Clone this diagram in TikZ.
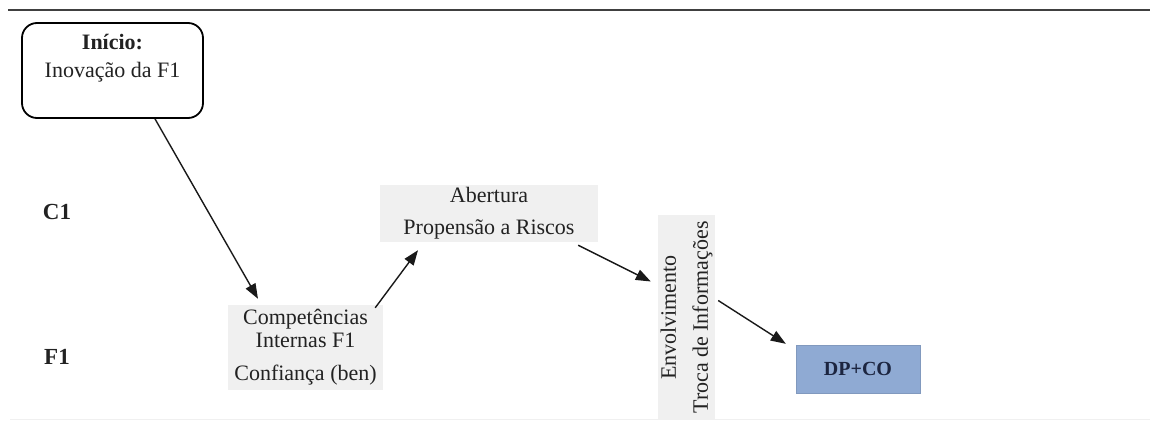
\documentclass[tikz,border=0pt]{standalone}
\usepackage{fontspec}
\setmainfont{Liberation Serif}
\usetikzlibrary{arrows.meta}
\definecolor{boxgray}{HTML}{F0F0F0}
\definecolor{dpblue}{HTML}{8FAAD3}
\definecolor{ink}{HTML}{222222}
\definecolor{navy}{HTML}{1C2540}
\begin{document}
\begin{tikzpicture}[x=1pt,y=-1pt,
  txt/.style={font=\fontsize{22}{23}\selectfont, text=ink, inner sep=0pt},
  graybox/.style={fill=boxgray, inner sep=0pt, align=center,
    font=\fontsize{22}{23}\selectfont, text=ink},
  lanelabel/.style={font=\fontsize{23}{24}\selectfont\bfseries, text=ink, inner sep=0pt},
  arr/.style={draw=black!90, line width=1.4pt, -{Triangle[length=15pt,width=11pt]}}]
\useasboundingbox (0,0) rectangle (1150,423);

% frame lines
\draw[line width=2.2pt, draw=black!75] (8,10) -- (1150,10);
\draw[line width=1pt, draw=black!6] (10,419) -- (1150,419);

% start box
\node[draw=black, line width=1.8pt, rounded corners=15pt,
      minimum width=181pt, minimum height=95pt, inner sep=0pt] (inicio) at (112.5,70.5) {};
\node[txt, align=center] (iniciotxt) at (112.5,58)
  {\textbf{Início:}\\[5pt]Inovação da F1};

% lane labels
\node[lanelabel] (c1) at (57,212) {C1};
\node[lanelabel] (f1) at (57,357) {F1};

% process boxes
\node[graybox, minimum width=155pt, minimum height=85pt] (comp) at (305.5,347.5)
  {Competências\\Internas F1\\[10pt]Confiança (ben)};
\node[graybox, minimum width=218pt, minimum height=57pt] (abert) at (489,213.5)
  {Abertura\\[9pt]Propensão a Riscos};
\node[graybox, minimum width=205pt, minimum height=57pt, rotate=90] (env) at (686.5,317.5)
  {Envolvimento\\[9pt]Troca de Informações};
\node[fill=dpblue, draw=dpblue!90!black, line width=0.4pt, minimum width=124pt, minimum height=48pt,
      inner sep=0pt, font=\fontsize{20}{22}\selectfont\bfseries, text=navy] (dp) at (858,369) {DP+CO};

% connectors
\draw[arr] ([xshift=42.5pt]inicio.south) -- ([xshift=-47.5pt,yshift=6pt]comp.north);
\draw[arr] ([xshift=-8pt,yshift=-3pt]comp.north east) -- ([xshift=-71pt,yshift=-8pt]abert.south);
\draw[arr] ([xshift=-20pt,yshift=-3pt]abert.south east) -- ([xshift=-7pt,yshift=36pt]env.north);
\draw[arr] ([xshift=3pt,yshift=17pt]env.south) -- ([xshift=-10pt,yshift=1pt]dp.north west);
\end{tikzpicture}
\end{document}
